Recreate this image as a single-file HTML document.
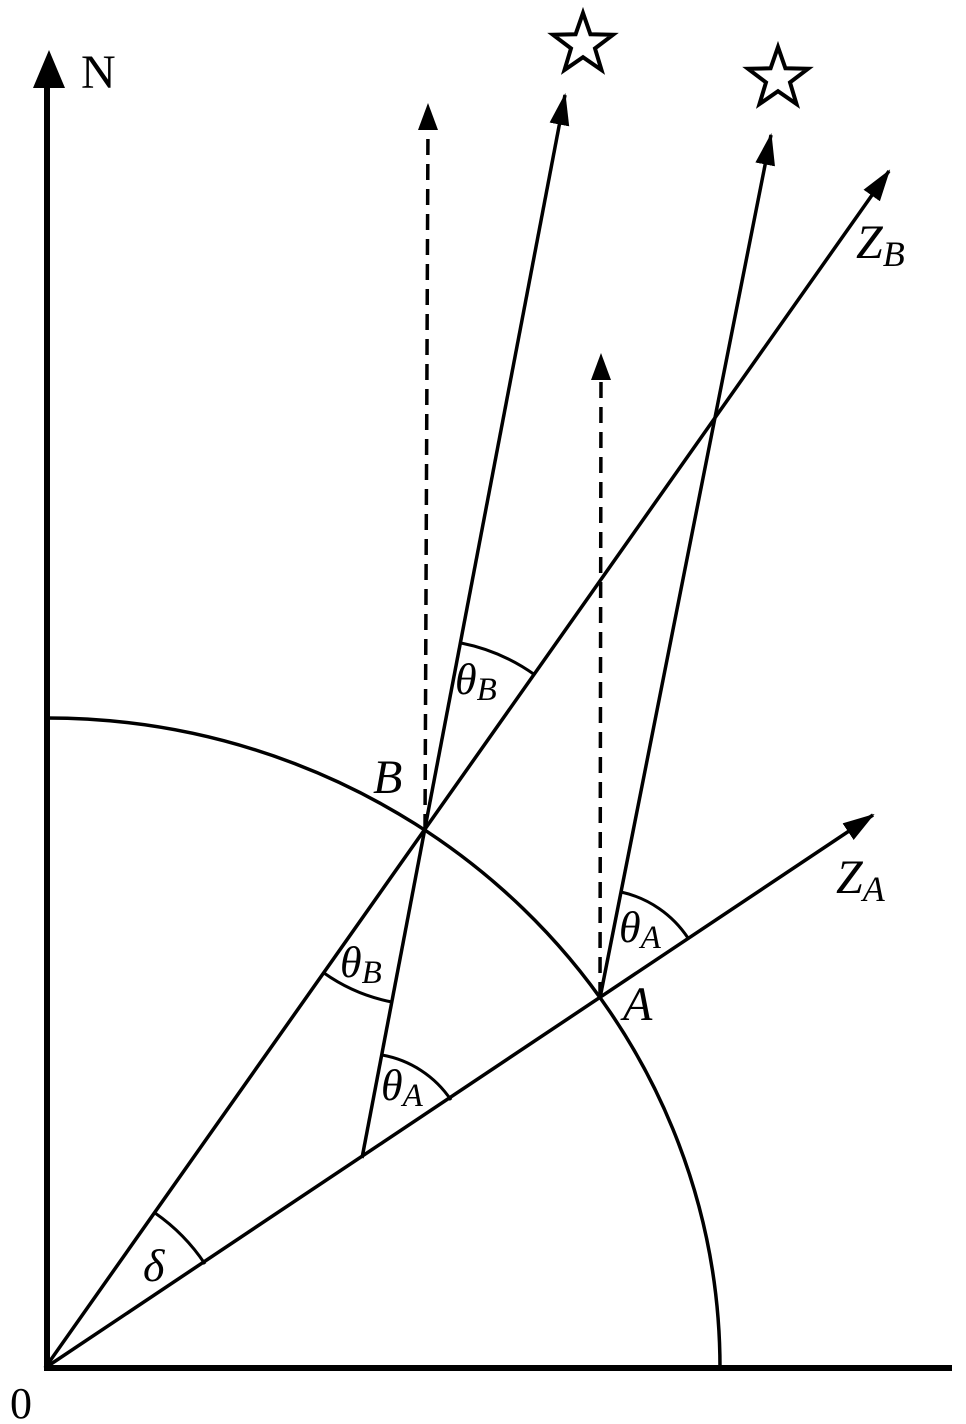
<!DOCTYPE html>
<html><head><style>html,body{margin:0;padding:0;background:#fff}svg{display:block}</style></head>
<body>
<svg width="966" height="1424" viewBox="0 0 966 1424" xmlns="http://www.w3.org/2000/svg">
<defs>
<marker id="ah" markerUnits="userSpaceOnUse" markerWidth="32" markerHeight="24" refX="30" refY="12" orient="auto">
<path d="M0,2 L32,12 L0,22 Z" fill="#000"/>
</marker>
</defs>
<g stroke="#000" fill="none" stroke-linecap="butt">
<line x1="47" y1="1370" x2="47" y2="84" stroke-width="6"/>
<path d="M49,50 L33,88 L65,88 Z" fill="#000" stroke="none"/>
<line x1="44" y1="1368" x2="952" y2="1368" stroke-width="6"/>
<path d="M47,718 A673,650 0 0 1 720,1368" stroke-width="3.5"/>
<line x1="45" y1="1368" x2="889" y2="171" stroke-width="3.5" marker-end="url(#ah)"/>
<line x1="45" y1="1368" x2="873" y2="815" stroke-width="3.5" marker-end="url(#ah)"/>
<line x1="362" y1="1158" x2="565" y2="95" stroke-width="3.5" marker-end="url(#ah)"/>
<line x1="600" y1="998" x2="771" y2="135" stroke-width="3.5" marker-end="url(#ah)"/>
<line x1="425" y1="830" x2="428" y2="120" stroke-width="3.5" stroke-dasharray="16,9"/>
<path d="M428,103 L418,130 L438,130 Z" fill="#000" stroke="none"/>
<line x1="600" y1="998" x2="601" y2="370" stroke-width="3.5" stroke-dasharray="16,9"/>
<path d="M601,353 L591,380 L611,380 Z" fill="#000" stroke="none"/>
<path d="M324,973 A175,175 0 0 0 392,1002" stroke-width="3"/>
<path d="M382,1055 A105,105 0 0 1 451,1100" stroke-width="3"/>
<path d="M621,892 A108,108 0 0 1 688,938" stroke-width="3"/>
<path d="M461,643 A190,190 0 0 1 535,675" stroke-width="3"/>
<path d="M155,1213 A190,190 0 0 1 205,1264" stroke-width="3"/>
<polygon stroke-width="4" stroke-linejoin="miter" points="583,13 590.4,34.3 613,34.8 595,48.4 601.5,70 583,57.2 564.5,70 571,48.4 553,34.8 575.6,34.3"/>
<polygon stroke-width="4" stroke-linejoin="miter" points="778,47 785.4,68.3 808,68.8 790,82.4 796.5,104 778,91.2 759.5,104 766,82.4 748,68.8 770.6,68.3"/>
</g>
<g font-family="Liberation Serif, serif" fill="#000">
<text x="81" y="88" font-size="48">N</text>
<text x="10" y="1418" font-size="44">0</text>
<g font-style="italic">
<text x="856" y="258" font-size="48">Z<tspan font-size="36" dy="8">B</tspan></text>
<text x="836" y="893" font-size="48">Z<tspan font-size="36" dy="8">A</tspan></text>
<text x="373" y="793" font-size="48">B</text>
<text x="623" y="1020" font-size="48">A</text>
<text x="143" y="1281" font-size="46">δ</text>
<text x="455" y="694" font-size="44">θ<tspan font-size="33" dy="6">B</tspan></text>
<text x="340" y="977" font-size="44">θ<tspan font-size="33" dy="6">B</tspan></text>
<text x="381" y="1100" font-size="44">θ<tspan font-size="33" dy="6">A</tspan></text>
<text x="619" y="942" font-size="44">θ<tspan font-size="33" dy="6">A</tspan></text>
</g>
</g>
</svg>
</body></html>
